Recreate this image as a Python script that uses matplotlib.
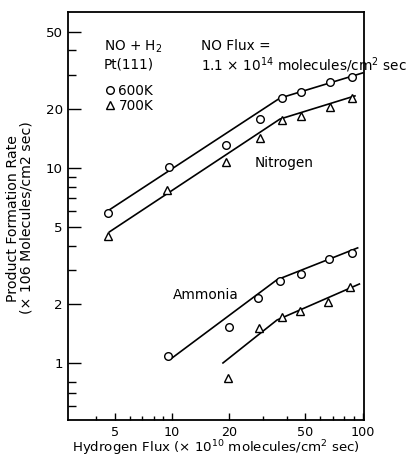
import matplotlib
matplotlib.use("Agg")
import matplotlib.pyplot as plt
from matplotlib.ticker import FixedLocator, NullFormatter, FixedFormatter
from matplotlib.lines import Line2D

plt.rcParams['font.family'] = ['DejaVu Sans']
plt.rcParams['mathtext.fontset'] = 'dejavusans'

# Nitrogen data
n2_x_600 = [4.6, 9.6, 19.3, 28.9, 37.5, 47.5, 67.5, 87.5]
n2_y_600 = [5.9, 10.1, 13.1, 17.8, 22.8, 24.5, 27.6, 29.4]
n2_x_700 = [4.6, 9.4, 19.2, 28.9, 37.5, 47.5, 67.0, 87.5]
n2_y_700 = [4.5, 7.7, 10.7, 14.3, 17.6, 18.5, 20.5, 22.9]

# Ammonia data
nh3_x_600 = [9.5, 19.9, 28.2, 36.7, 47.3, 66.4, 87.5]
nh3_y_600 = [1.09, 1.53, 2.15, 2.63, 2.86, 3.41, 3.66]
nh3_x_700 = [19.6, 28.6, 37.7, 46.8, 65.6, 85.7]
nh3_y_700 = [0.84, 1.51, 1.72, 1.85, 2.05, 2.45]

# Fitted lines (vertices)
n2_fit_x_600 = [4.7, 36.8, 100]
n2_fit_y_600 = [6.1, 22.8, 30.7]
n2_fit_x_700 = [4.7, 36.8, 91]
n2_fit_y_700 = [4.7, 17.8, 23.4]
nh3_fit_x_600 = [10.0, 35.5, 94]
nh3_fit_y_600 = [1.06, 2.67, 3.89]
nh3_fit_x_700 = [18.5, 35.5, 96]
nh3_fit_y_700 = [1.0, 1.66, 2.54]

x_major = [5, 10, 20, 50, 100]
x_minor = [4, 6, 7, 8, 9, 30, 40, 60, 70, 80, 90]
y_major = [1, 2, 5, 10, 20, 50]
y_minor = [0.6, 0.7, 0.8, 3, 4, 6, 7, 8, 9, 30, 40]

fig = plt.figure(figsize=(4.11, 4.62), dpi=100)
ax = fig.add_axes([68/411, 42/462, 296/411, 408/462])
ax.set_xscale('log')
ax.set_yscale('log')
ax.set_xlim(2.85, 101.5)
ax.set_ylim(0.51, 63)

lw = 1.2
for fx, fy in [(n2_fit_x_600, n2_fit_y_600), (n2_fit_x_700, n2_fit_y_700),
               (nh3_fit_x_600, nh3_fit_y_600), (nh3_fit_x_700, nh3_fit_y_700)]:
    ax.plot(fx, fy, color='black', lw=lw, zorder=2)

mk = dict(linestyle='none', markerfacecolor='white', markeredgecolor='black',
          markeredgewidth=1.0, zorder=3)
ax.plot(n2_x_600, n2_y_600, marker='o', markersize=5.5, **mk)
ax.plot(n2_x_700, n2_y_700, marker='^', markersize=6, **mk)
ax.plot(nh3_x_600, nh3_y_600, marker='o', markersize=5.5, **mk)
ax.plot(nh3_x_700, nh3_y_700, marker='^', markersize=6, **mk)

ax.xaxis.set_major_locator(FixedLocator(x_major))
ax.xaxis.set_major_formatter(FixedFormatter([str(v) for v in x_major]))
ax.xaxis.set_minor_locator(FixedLocator(x_minor))
ax.xaxis.set_minor_formatter(NullFormatter())
ax.yaxis.set_major_locator(FixedLocator(y_major))
ax.yaxis.set_major_formatter(FixedFormatter([str(v) for v in y_major]))
ax.yaxis.set_minor_locator(FixedLocator(y_minor))
ax.yaxis.set_minor_formatter(NullFormatter())

ax.tick_params(axis='x', which='major', direction='in', length=5, width=1, labelsize=9.2, pad=4.5)
ax.tick_params(axis='x', which='minor', direction='in', length=3, width=1)
ax.tick_params(axis='y', which='major', direction='in', length=9.4, width=1, labelsize=9.6, pad=3.8)
ax.tick_params(axis='y', which='minor', direction='in', length=5.5, width=1)
for s in ax.spines.values():
    s.set_linewidth(1.3)

ax.set_xlabel('Hydrogen Flux (× 10$^{10}$ molecules/cm$^2$ sec)', fontsize=9.6)
ax.xaxis.set_label_coords(0.50, -0.078)
ax.xaxis.label.set_verticalalignment('baseline')
ax.set_ylabel('Product Formation Rate\n(× 106 Molecules/cm2 sec)', fontsize=10.2,
              linespacing=0.95)
ax.yaxis.set_label_coords(-0.164, 0.495)
ax.yaxis.label.set_verticalalignment('center')

fs = 9.8
ax.text(0.122, 0.914, 'NO + H$_2$', transform=ax.transAxes, fontsize=fs, va='center')
ax.text(0.122, 0.872, 'Pt(111)', transform=ax.transAxes, fontsize=fs, va='center')
ax.text(0.449, 0.917, 'NO Flux =', transform=ax.transAxes, fontsize=fs, va='center')
ax.text(0.449, 0.870, '1.1 × 10$^{14}$ molecules/cm$^2$ sec', transform=ax.transAxes,
        fontsize=fs, va='center', clip_on=False)
ax.text(0.632, 0.630, 'Nitrogen', transform=ax.transAxes, fontsize=fs, va='center')
ax.text(0.355, 0.306, 'Ammonia', transform=ax.transAxes, fontsize=fs, va='center')

handles = [Line2D([], [], marker='o', markersize=5.5, **mk),
           Line2D([], [], marker='^', markersize=6, **mk)]
ax.legend(handles, ['600K', '700K'], loc='upper left', bbox_to_anchor=(0.09, 0.848),
          frameon=False, fontsize=fs, handlelength=0.8, handletextpad=0.25,
          labelspacing=0.1, borderpad=0.2)

fig.savefig('out.png', dpi=100)
